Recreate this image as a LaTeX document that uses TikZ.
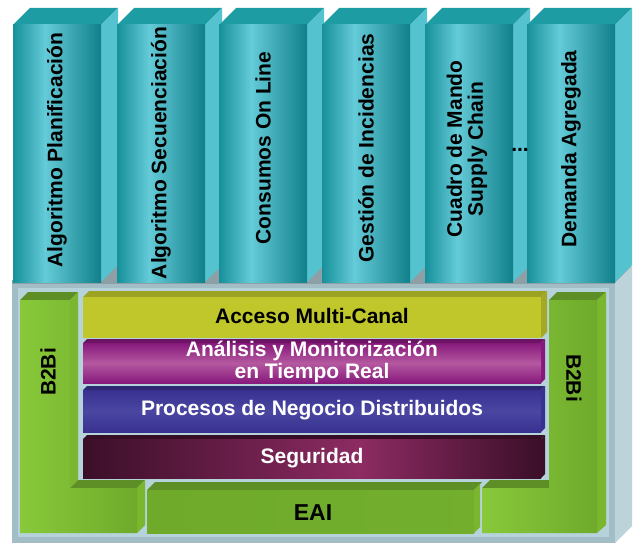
\documentclass[tikz,border=0pt]{standalone}
\usepackage{fontspec}
\setmainfont{Liberation Sans}
\begin{document}
\begin{tikzpicture}[x=1pt,y=-1pt,
  lbl/.style={font=\fontsize{21}{21}\selectfont\bfseries, inner sep=0pt, align=center},
  wlbl/.style={lbl, text=white}]
\definecolor{tealtop}{HTML}{1E9CA3}
\definecolor{tealside}{HTML}{55C3CF}
\definecolor{tealedge}{HTML}{16909A}
\definecolor{teallight}{HTML}{64CBD8}
\definecolor{tealdark}{HTML}{10808A}
\definecolor{basefront}{HTML}{A3BDC6}
\definecolor{baseinner}{HTML}{B6D3DB}
\definecolor{baseside}{HTML}{BCD3D9}
\definecolor{basetop}{HTML}{8E9FA5}
\definecolor{grlight}{HTML}{88C93A}
\definecolor{grdark}{HTML}{6FAA2B}
\definecolor{grtop}{HTML}{5E8E26}
\definecolor{grside}{HTML}{7BB62F}
\definecolor{yel}{HTML}{C0C72B}
\definecolor{yeltop}{HTML}{9CA222}
\definecolor{magA}{HTML}{87197C}
\definecolor{magB}{HTML}{B4589F}
\definecolor{bluA}{HTML}{393190}
\definecolor{bluB}{HTML}{4A46A2}
\definecolor{marA}{HTML}{3B0F29}
\definecolor{marB}{HTML}{8D2B62}
\useasboundingbox (0,0) rectangle (639,543);
% base box
\fill[basetop] (12,283) -- (29,266) -- (632,266) -- (615,283) -- cycle;
\fill[baseside] (615,283) -- (632,266) -- (632,526) -- (615,543) -- cycle;
\fill[basefront] (12,283) rectangle (615,543);
\fill[baseinner] (18,288) rectangle (609,537);
\fill[basetop] (12,280) rectangle (615,284);
% pillars
\foreach \xl in {13,117,219,322,425,527}{
  \fill[tealtop] (\xl,25) -- (\xl+17,8) -- (\xl+105,8) -- (\xl+88,25) -- cycle;
  \fill[tealside] (\xl+88,25) -- (\xl+105,8) -- (\xl+105,265) -- (\xl+88,282) -- cycle;
  \shade[left color=tealedge, right color=teallight] (\xl,25) rectangle (\xl+32,282);
  \shade[left color=teallight, right color=tealdark] (\xl+32,25) rectangle (\xl+88,282);
}
% left B2Bi
\fill[grtop] (20,300) -- (28,292) -- (78,292) -- (70,300) -- cycle;
\fill[grside] (70,300) -- (78,292) -- (78,480) -- (70,488) -- cycle;
\fill[grtop] (70,488) -- (78,480) -- (145,480) -- (137,488) -- cycle;
\fill[grside] (137,488) -- (145,480) -- (145,525) -- (137,533) -- cycle;
\shade[left color=grlight, right color=grdark] (20,300) -- (70,300) -- (70,488) -- (137,488) -- (137,533) -- (20,533) -- cycle;
% right B2Bi
\fill[grtop] (482,488) -- (490,480) -- (557,480) -- (549,488) -- cycle;
\fill[grtop] (549,300) -- (557,292) -- (606,292) -- (597,300) -- cycle;
\fill[grside] (597,300) -- (606,292) -- (606,525) -- (597,533) -- cycle;
\shade[left color=grlight, right color=grdark] (549,300) -- (597,300) -- (597,533) -- (482,533) -- (482,488) -- (549,488) -- cycle;
% EAI
\fill[grtop] (147,490) -- (155,482) -- (482,482) -- (474,490) -- cycle;
\fill[grside] (474,490) -- (480,484) -- (480,527) -- (474,533) -- cycle;
\shade[left color=grdark, right color=grdark!85!grlight] (147,490) rectangle (474,533);
% layers
\fill[yeltop] (83,297) -- (89,291) -- (547,291) -- (541,297) -- cycle;
\fill[yeltop!80!yel] (541,297) -- (547,291) -- (547,332) -- (541,338) -- cycle;
\fill[yel] (83,297) rectangle (541,338);
\fill[magA!80!black] (83,343) -- (87,339) -- (545,339) -- (541,343) -- cycle;
\fill[magA] (541,343) -- (545,339) -- (545,379) -- (541,383) -- cycle;
\shade[top color=magA, bottom color=magA, middle color=magB] (83,343) rectangle (541,383);
\fill[bluA!80!black] (83,390) -- (87,386) -- (545,386) -- (541,390) -- cycle;
\fill[bluA] (541,390) -- (545,386) -- (545,428) -- (541,432) -- cycle;
\shade[top color=bluA, bottom color=bluA, middle color=bluB] (83,390) rectangle (541,432);
\fill[marA!90!black] (83,439) -- (87,435) -- (545,435) -- (541,439) -- cycle;
\fill[marA] (541,439) -- (545,435) -- (545,474) -- (541,478) -- cycle;
\shade[left color=marA, right color=marB] (83,439) rectangle (360,478);
\shade[left color=marB, right color=marA] (360,439) rectangle (541,478);
% texts
\node[lbl, rotate=90] (p1) at (57,150) {Algoritmo Planificación};
\node[lbl, rotate=90] (p2) at (161,153) {Algoritmo Secuenciación};
\node[lbl, rotate=90] (p3) at (263,148) {Consumos On Line};
\node[lbl, rotate=90] (p4) at (366,148) {Gestión de Incidencias};
\node[lbl, rotate=90] (p5) at (467,149) {Cuadro de Mando\\Supply Chain};
\node[lbl, rotate=90] (p6) at (571,149) {Demanda Agregada};
\node[lbl] (dots) at (520,150) {...};
\node[lbl, rotate=90] (b2l) at (48,372) {B2Bi};
\node[lbl, rotate=-90] (b2r) at (574,378) {B2Bi};
\node[lbl, font=\fontsize{23}{23}\selectfont\bfseries] (eai) at (313,513) {EAI};
\node[lbl] (acc) at (312,316) {Acceso Multi-Canal};
\node[wlbl, font=\fontsize{21}{22}\selectfont\bfseries] (ana) at (312,362) {Análisis y Monitorización\\en Tiempo Real};
\node[wlbl] (pro) at (312,410) {Procesos de Negocio Distribuidos};
\node[wlbl] (seg) at (312,458) {Seguridad};
\end{tikzpicture}
\end{document}
